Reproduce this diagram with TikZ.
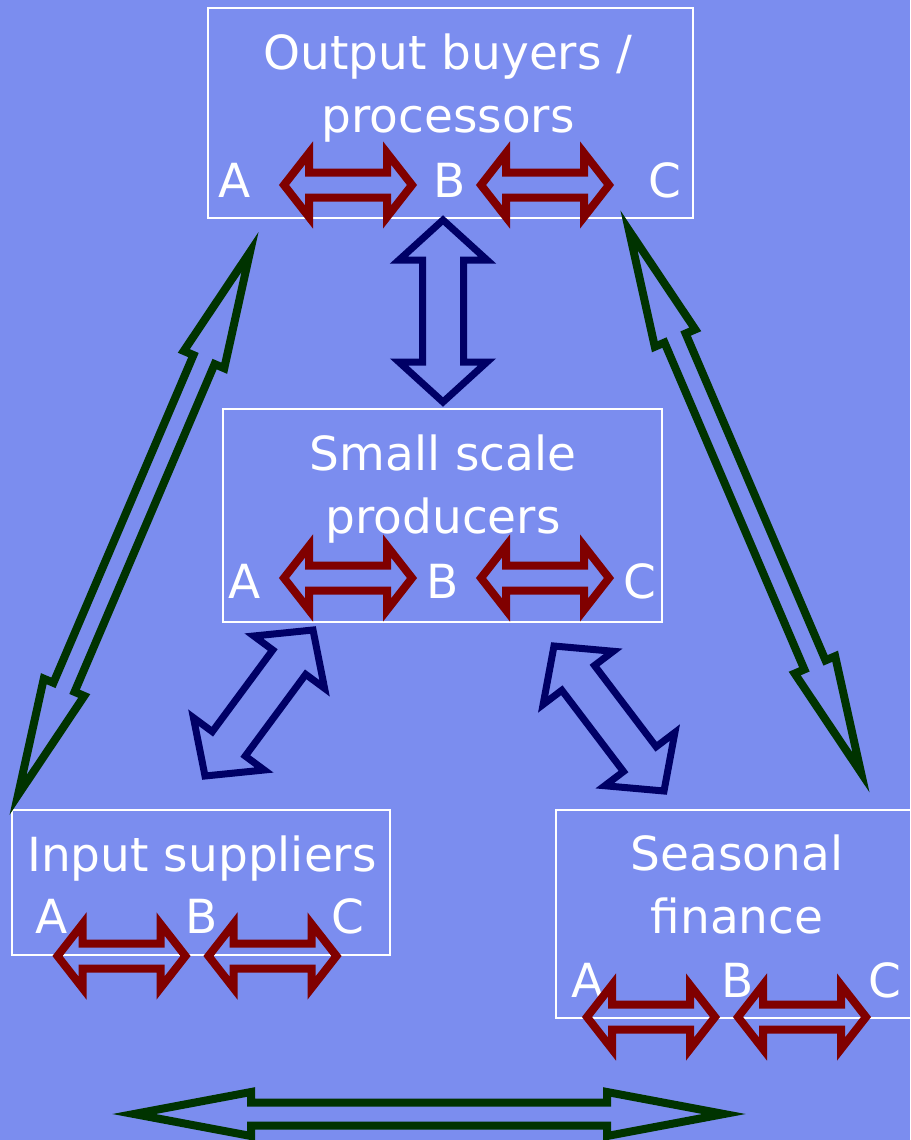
\documentclass[tikz,border=0pt]{standalone}
\usepackage{fontspec}
\setmainfont{DejaVu Sans}
\usetikzlibrary{calc}
\definecolor{hatter}{RGB}{123,141,239}
\definecolor{sotetpiros}{RGB}{128,0,0}
\definecolor{sotetkek}{RGB}{0,0,102}
\definecolor{sotetzold}{RGB}{0,51,0}
\tikzset{
  doboz/.style={draw=white,line width=1.6pt,inner sep=0pt},
  cim/.style={text=white,align=center,anchor=base,inner sep=0pt,font=\fontsize{47}{63}\selectfont},
  betu/.style={text=white,anchor=base,inner sep=0pt,font=\fontsize{47}{63}\selectfont},
  piros/.style={draw=sotetpiros,line width=8pt},
  kek/.style={draw=sotetkek,line width=7pt},
  zold/.style={draw=sotetzold,line width=8pt},
}
% hollow double block arrow: style, from, to, head length, head half width, shaft half width
\newcommand{\tomb}[6]{%
  \path let \p1=($(#3)-(#2)$) in \pgfextra{%
    \pgfmathsetmacro\tsz{atan2(\y1,\x1)}\pgfmathsetmacro\thz{veclen(\x1,\y1)}%
    \global\let\tombszog\tsz\global\let\tombhossz\thz};
  \begin{scope}[shift={(#2)},rotate=\tombszog]
    \draw[#1] (0,0) -- (#4,#5) -- (#4,#6) -- (\tombhossz-#4,#6) -- (\tombhossz-#4,#5)
      -- (\tombhossz,0) -- (\tombhossz-#4,-#5) -- (\tombhossz-#4,-#6) -- (#4,-#6)
      -- (#4,-#5) -- cycle;
  \end{scope}}

\begin{document}
\begin{tikzpicture}[x=1pt,y=-1pt]
  \fill[hatter] (0,0) rectangle (910,1140);
  \useasboundingbox (0,0) rectangle (910,1140);
  % boxes
  \node[doboz,minimum width=485pt,minimum height=210pt] (vevo) at (450.5,113) {};
  \node[doboz,minimum width=439pt,minimum height=213pt] (termelo) at (442.5,515.5) {};
  \node[doboz,minimum width=378pt,minimum height=145pt] (beszallito) at (201,882.5) {};
  \node[doboz,minimum width=370pt,minimum height=208pt] (hitel) at (741,914) {};
  % texts (base = last line)
  \node[cim] (vevocim) at (448,132) {Output buyers /\\processors};
  \node[betu] (vA) at (235,197) {A}; \node[betu] (vB) at (450,197) {B}; \node[betu] (vC) at (665,197) {C};
  \node[cim] (termelocim) at (443,533) {Small scale\\producers};
  \node[betu] (tA) at (245,598) {A}; \node[betu] (tB) at (443,598) {B}; \node[betu] (tC) at (640,598) {C};
  \node[cim] (beszallitocim) at (202,871) {Input suppliers};
  \node[betu] (bA) at (52,933) {A}; \node[betu] (bB) at (202,933) {B}; \node[betu] (bC) at (348,933) {C};
  \node[cim] (hitelcim) at (737,933) {Seasonal\\finance};
  \node[betu] (hA) at (588,997) {A}; \node[betu] (hB) at (738,997) {B}; \node[betu] (hC) at (885,997) {C};
  % arrow ends
  \coordinate (v1a) at (284,185); \coordinate (v1b) at (412,185);
  \coordinate (v2a) at (481,185); \coordinate (v2b) at (609,185);
  \coordinate (t1a) at (284,578); \coordinate (t1b) at (412,578);
  \coordinate (t2a) at (481,578); \coordinate (t2b) at (609,578);
  \coordinate (b1a) at (57.5,956); \coordinate (b1b) at (185.5,956);
  \coordinate (b2a) at (208.5,956); \coordinate (b2b) at (336.5,956);
  \coordinate (h1a) at (587,1017); \coordinate (h1b) at (715,1017);
  \coordinate (h2a) at (738,1017); \coordinate (h2b) at (866,1017);
  \coordinate (kfel) at (443,220); \coordinate (kle) at (443,402);
  \coordinate (kbal1) at (313,630); \coordinate (kbal2) at (205,776);
  \coordinate (kjobb1) at (554,646); \coordinate (kjobb2) at (664,791);
  \coordinate (zbal1) at (250,252); \coordinate (zbal2) at (18,795);
  \coordinate (zjobb1) at (629,230.5); \coordinate (zjobb2) at (861,772.5);
  \coordinate (zlent1) at (134,1114); \coordinate (zlent2) at (724,1114);
  % red arrows
  \foreach \a/\b in {v1a/v1b,v2a/v2b,t1a/t1b,t2a/t2b,b1a/b1b,b2a/b2b,h1a/h1b,h2a/h2b}
    \tomb{piros}{\a}{\b}{25}{32}{12.5};
  % blue arrows
  \foreach \a/\b in {kfel/kle,kbal1/kbal2,kjobb1/kjobb2}
    \tomb{kek}{\a}{\b}{40}{44}{20.5};
  % green arrows
  \foreach \a/\b in {zbal1/zbal2,zjobb1/zjobb2,zlent1/zlent2}
    \tomb{zold}{\a}{\b}{117}{22}{11.5};
\end{tikzpicture}
\end{document}
